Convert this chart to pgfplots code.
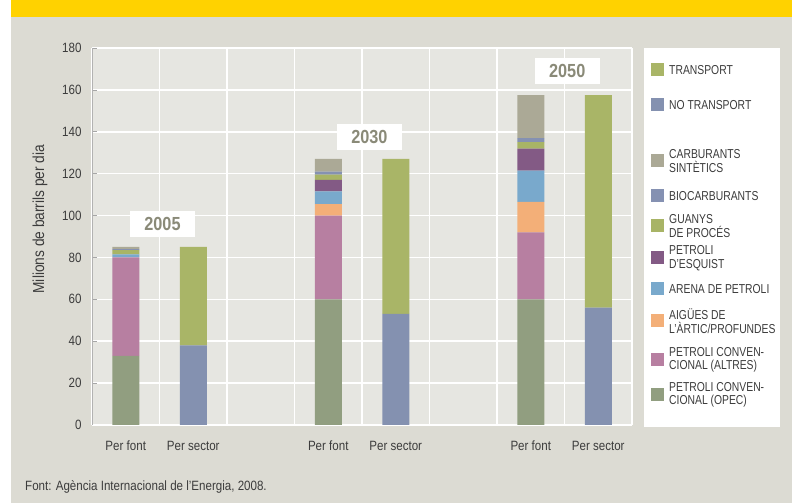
\documentclass[border=0pt]{standalone}
\usepackage{fontspec}
\setmainfont{Liberation Sans}[FakeStretch=0.86]
\newfontfamily\legfont{Liberation Sans}[FakeStretch=0.8]
\usepackage{pgfplots}
\pgfplotsset{compat=1.18}

\definecolor{pagebg}{HTML}{DCDBD3}
\definecolor{plotbg}{HTML}{E6E6E1}
\definecolor{topbar}{HTML}{FFD200}
\definecolor{txt}{HTML}{3C3C3C}
\definecolor{yeartxt}{HTML}{8A8A78}
\definecolor{cOpec}{HTML}{919E80}
\definecolor{cAltres}{HTML}{B77FA1}
\definecolor{cAigues}{HTML}{F3AF78}
\definecolor{cArena}{HTML}{79A9CC}
\definecolor{cEsquist}{HTML}{835A85}
\definecolor{cGuanys}{HTML}{A8B466}
\definecolor{cBio}{HTML}{8591B2}
\definecolor{cSint}{HTML}{ABA996}
\definecolor{cTrans}{HTML}{A9B567}
\definecolor{cNoTrans}{HTML}{8491B0}

\begin{document}
\begin{tikzpicture}[x=1bp,y=1bp]
\useasboundingbox (0,0) rectangle (792,503);
\fill[white] (0,0) rectangle (792,503);
\fill[pagebg] (11,0) rectangle (792,503);
\fill[topbar] (11,486) rectangle (792,503);
\fill[white] (644,76) rectangle (780,455);

\begin{axis}[
    at={(92bp,78bp)}, anchor=south west,
    width=540bp, height=377bp, scale only axis,
    xmin=0, xmax=8, ymin=0, ymax=180,
    ybar stacked, bar width=27bp, bar shift=0pt,
    axis background/.style={fill=plotbg},
    xtick={0,1,...,8},
    xticklabels={Per font,Per sector,,Per font,Per sector,,Per font,Per sector,},
    ytick={0,20,...,180},
    xmajorgrids, ymajorgrids,
    grid style={white, line width=1.5bp},
    separate axis lines,
    axis x line*=bottom, axis y line*=left,
    x axis line style={white, line width=1.5bp, -},
    y axis line style={black!30, line width=0.6bp, -},
    xtick style={draw=none},
    ytick style={black!35, line width=0.6bp},
    tick align=inside, major tick length=5bp,
    /pgf/number format/assume math mode=true,
    tick label style={font=\fontsize{13.5}{14}\selectfont, text=txt},
    xticklabel style={anchor=base, yshift=-26bp, xshift=33.75bp},
    yticklabel style={anchor=east, xshift=-7bp},
    ylabel={Milions de barrils per dia},
    every axis y label/.style={at={(axis description cs:-0.0963,0.546)}, rotate=90, anchor=center, font=\fontsize{16}{16}\selectfont, text=txt},
    every axis plot/.append style={draw=none},
]
% per font (2005, 2030, 2050 at 0.5, 3.5, 6.5); per sector at 1.5, 4.5, 7.5
\addplot[fill=cOpec] coordinates {(0.5,33) (1.5,0) (3.5,60) (4.5,0) (6.5,60) (7.5,0)};
\addplot[fill=cAltres] coordinates {(0.5,47) (1.5,0) (3.5,40) (4.5,0) (6.5,32) (7.5,0)};
\addplot[fill=cAigues] coordinates {(0.5,0) (1.5,0) (3.5,5.5) (4.5,0) (6.5,14.5) (7.5,0)};
\addplot[fill=cArena] coordinates {(0.5,1.5) (1.5,0) (3.5,6) (4.5,0) (6.5,15) (7.5,0)};
\addplot[fill=cEsquist] coordinates {(0.5,0) (1.5,0) (3.5,5.5) (4.5,0) (6.5,10.5) (7.5,0)};
\addplot[fill=cGuanys] coordinates {(0.5,2) (1.5,0) (3.5,2.5) (4.5,0) (6.5,3) (7.5,0)};
\addplot[fill=cBio] coordinates {(0.5,0.5) (1.5,0) (3.5,1.5) (4.5,0) (6.5,2) (7.5,0)};
\addplot[fill=cSint] coordinates {(0.5,1) (1.5,0) (3.5,6) (4.5,0) (6.5,20.5) (7.5,0)};
\addplot[fill=cNoTrans] coordinates {(0.5,0) (1.5,38) (3.5,0) (4.5,53) (6.5,0) (7.5,56)};
\addplot[fill=cTrans] coordinates {(0.5,0) (1.5,47) (3.5,0) (4.5,74) (6.5,0) (7.5,101.5)};

\tikzset{yearbox/.style={fill=white, minimum width=65bp, minimum height=26bp, inner sep=0pt, text=yeartxt, font=\bfseries\fontsize{19}{19}\selectfont}}
\node[yearbox] at (axis cs:1.044,96) {2005};
\node[yearbox] at (axis cs:4.11,137.5) {2030};
\node[yearbox] at (axis cs:7.04,169) {2050};
\end{axis}

% legend
\tikzset{legtxt/.style={anchor=west, align=left, inner sep=0pt, text=txt, font=\legfont\fontsize{13}{13.5}\selectfont}}
\foreach \c/\y/\t in {
    cTrans/70/{TRANSPORT},
    cNoTrans/105/{NO TRANSPORT},
    cSint/161/{CARBURANTS\\SINTÈTICS},
    cBio/196/{BIOCARBURANTS},
    cGuanys/226/{GUANYS\\DE PROCÉS},
    cEsquist/258/{PETROLI\\D’ESQUIST},
    cArena/289/{ARENA DE PETROLI},
    cAigues/321/{AIGÜES DE\\L’ÀRTIC/PROFUNDES},
    cAltres/360/{PETROLI CONVEN-\\CIONAL (ALTRES)},
    cOpec/395/{PETROLI CONVEN-\\CIONAL (OPEC)}} {
  \fill[\c] (651,503-\y-6.5) rectangle ++(13,13);
  \node[legtxt] at (669,503-\y) {\t};
}

\node[anchor=base west, inner sep=0pt, text=txt, font=\fontsize{13.5}{14}\selectfont] at (25,12) {Font: Agència Internacional de l’Energia, 2008.};
\end{tikzpicture}
\end{document}
